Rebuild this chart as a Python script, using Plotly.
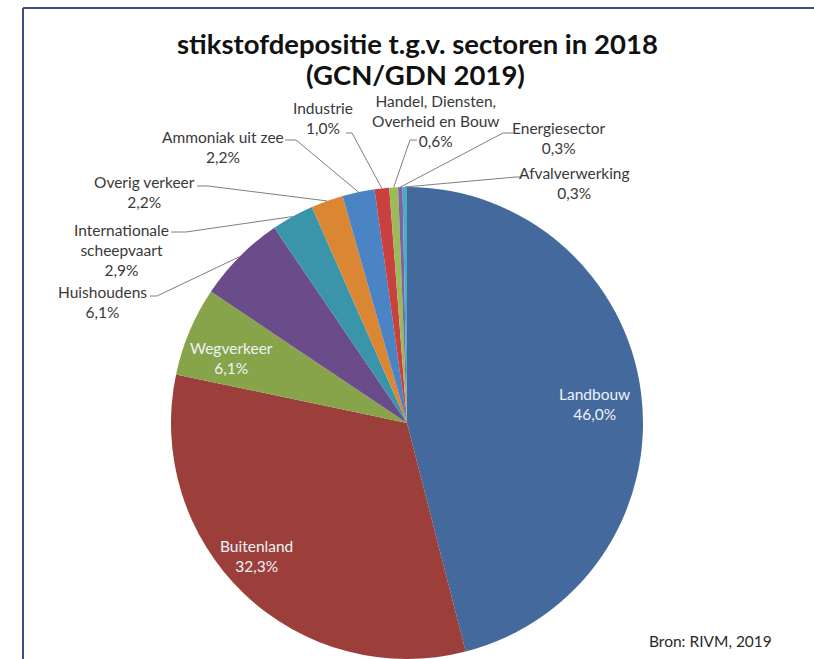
import math
import plotly.graph_objects as go

# Sectors, clockwise from 12 o'clock
sectors = ["Landbouw", "Buitenland", "Wegverkeer", "Huishoudens",
           "Internationale scheepvaart", "Overig verkeer", "Ammoniak uit zee",
           "Industrie", "Handel, Diensten, Overheid en Bouw", "Energiesector",
           "Afvalverwerking"]
shares = [46.0, 32.3, 6.1, 6.1, 2.9, 2.2, 2.2, 1.0, 0.6, 0.3, 0.3]
label_text = ["Landbouw<br>46,0%", "Buitenland<br>32,3%", "Wegverkeer<br>6,1%",
              "Huishoudens<br>6,1%", "Internationale<br>scheepvaart<br>2,9%",
              "Overig verkeer<br>2,2%", "Ammoniak uit zee<br>2,2%",
              "Industrie<br>1,0%", "Handel, Diensten,<br>Overheid en Bouw<br>0,6%",
              "Energiesector<br>0,3%", "Afvalverwerking<br>0,3%"]
colors = ["#44699d", "#9c3f3b", "#88a44a", "#6a4c8b", "#3a95aa", "#db8633",
          "#4a84c4", "#c9413f", "#9bbb59", "#8064a2", "#4bacc6"]

W, H = 814, 659
CX, CY, R = 407, 423, 236      # pie centre and radius in pixels


def paper(x, y):
    return x / W, 1 - y / H


# label block centres (px), and the elbow start of each leader line
label_pos = [(594, 404), (256, 556), (231, 358), (102, 302), (121, 250),
             (144, 192), (223, 147), (323, 118), (436, 121), (559, 138),
             (574, 183)]
inside = [True, True, True] + [False] * 8
leader_start = [None, None, None,
                ((150, 296), (157, 296)), ((171, 232), (186, 232)),
                ((197, 186), (208, 186)), ((285, 140), (296, 140)),
                ((346, 133), (352, 133)), ((417, 140), (410, 140)),
                ((513, 133), (503, 133)), ((522, 177), (516, 177))]

x0, y0 = (CX - R) / W, (H - CY - R) / H
x1, y1 = (CX + R) / W, (H - CY + R) / H

fig = go.Figure(go.Pie(
    labels=sectors, values=shares, sort=False, direction="clockwise",
    rotation=0, marker=dict(colors=colors, line=dict(width=0)),
    textinfo="none", hoverinfo="label+percent", showlegend=False,
    domain=dict(x=[x0, x1], y=[max(y0, 0), min(y1, 1)]),
))


def text_at(px, py, text, size, color):
    x, y = paper(px, py)
    return dict(x=x, y=y, xref="paper", yref="paper", text=text,
                showarrow=False, xanchor="center", yanchor="middle",
                align="center", font=dict(family="Lato", size=size, color=color))


annotations = []
shapes = []
total = sum(shares)
cum = 0.0
for i, v in enumerate(shares):
    mid = (cum + v / 2) / total * 2 * math.pi
    cum += v
    if inside[i]:
        annotations.append(text_at(*label_pos[i], label_text[i], 15.5, "#eef2f8"))
        continue
    annotations.append(text_at(*label_pos[i], label_text[i], 15.5, "#3a3a3a"))
    ex = CX + R * math.sin(mid)
    ey = CY - R * math.cos(mid)
    (ax, ay), (bx, by) = leader_start[i]
    pts = [paper(ax, ay), paper(bx, by), paper(ex, ey)]
    path = "M {} {} L {} {} L {} {}".format(*[c for p in pts for c in p])
    shapes.append(dict(type="path", path=path, xref="paper", yref="paper",
                       line=dict(color="#7f7f7f", width=1)))

annotations.append(text_at(417, 43, "<b>stikstofdepositie t.g.v. sectoren in 2018</b>",
                           27.5, "#111111"))
annotations.append(text_at(415, 75, "<b>(GCN/GDN 2019)</b>", 27.5, "#111111"))
annotations.append(text_at(710, 641, "Bron: RIVM, 2019", 15.5, "#2a2a2a"))

# frame lines along the left and top edges
fx, fy = paper(23, 8)
shapes.append(dict(type="line", xref="paper", yref="paper", x0=fx, y0=0,
                   x1=fx, y1=fy, line=dict(color="#404a86", width=2)))
shapes.append(dict(type="line", xref="paper", yref="paper", x0=fx, y0=fy,
                   x1=1, y1=fy, line=dict(color="#404a86", width=2)))

fig.update_layout(width=W, height=H, margin=dict(l=0, r=0, t=0, b=0),
                  paper_bgcolor="white", plot_bgcolor="white",
                  annotations=annotations, shapes=shapes)
fig.write_html("out.html")
